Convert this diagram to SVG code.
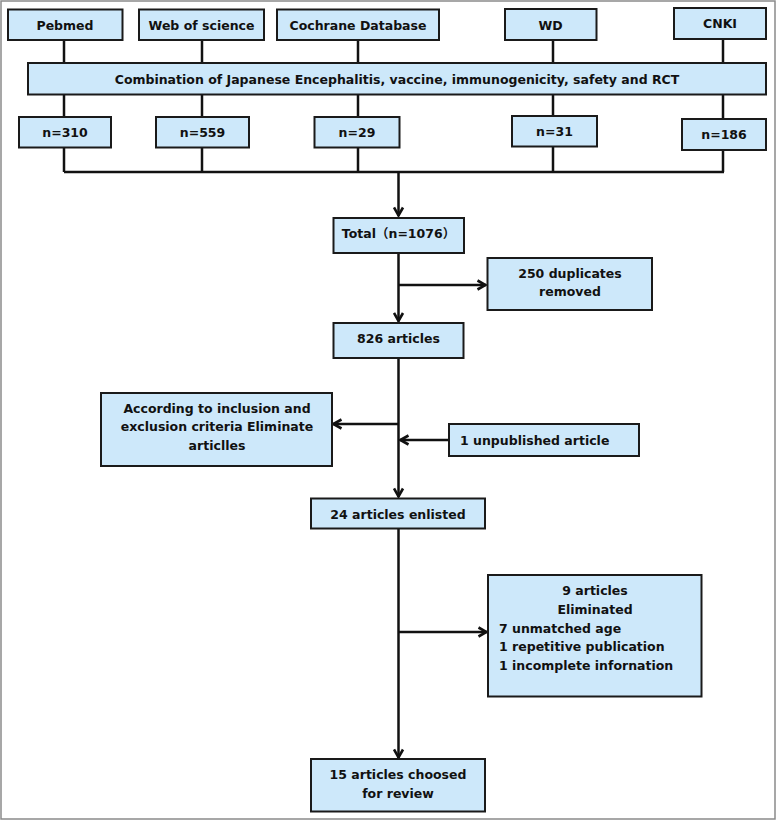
<svg xmlns="http://www.w3.org/2000/svg" width="776" height="820" viewBox="0 0 776 820">
<style>
.box{fill:#cde8fa;stroke:#1a1a1a;stroke-width:2}
.t{font-family:"DejaVu Sans","Verdana","Noto Sans CJK SC",sans-serif;font-weight:bold;font-size:12.5px;fill:#111}
.c{text-anchor:middle}
.ln{fill:none;stroke:#111;stroke-width:2.5}
</style>
<defs>
<marker id="arr" viewBox="0 0 12 12" refX="10.5" refY="6" markerWidth="12" markerHeight="12" markerUnits="userSpaceOnUse" orient="auto">
<path d="M2,1.5 L10,6 L2,10.5" fill="none" stroke="#111" stroke-width="2.6" stroke-linejoin="miter" stroke-miterlimit="4"/>
</marker>
</defs>
<rect x="1" y="1" width="774" height="818" fill="#fff" stroke="#8a8a8a" stroke-width="1.5"/>
<g id="connectors">
<path class="ln" d="M64,40V63 M202,40V63 M358,40V63 M553,40V63 M723,39V63"/>
<path class="ln" d="M64,94V117 M202,94V117 M358,94V117 M553,94V116 M723,94V119"/>
<path class="ln" d="M64,147V172 M202,147V172 M358,147V172 M553,147V172 M723,150V172 M64,172H724"/>
<path class="ln" d="M398.5,172V216" marker-end="url(#arr)"/>
<path class="ln" d="M398.5,253V321.5" marker-end="url(#arr)"/>
<path class="ln" d="M398.5,285H486" marker-end="url(#arr)"/>
<path class="ln" d="M398.5,358V497" marker-end="url(#arr)"/>
<path class="ln" d="M398.5,424H333" marker-end="url(#arr)"/>
<path class="ln" d="M449,440H400" marker-end="url(#arr)"/>
<path class="ln" d="M398.5,528V758" marker-end="url(#arr)"/>
<path class="ln" d="M398.5,632H487" marker-end="url(#arr)"/>
</g>
<g id="pebmed"><rect class="box" x="8" y="9.5" width="114.5" height="30.5"/><text class="t c" x="65" y="29.5">Pebmed</text></g>
<g id="wos"><rect class="box" x="139" y="9.5" width="125" height="30.5"/><text class="t c" x="201.5" y="29.5">Web of science</text></g>
<g id="cochrane"><rect class="box" x="277" y="9.5" width="162" height="30.5"/><text class="t c" x="358" y="29.5">Cochrane Database</text></g>
<g id="wd"><rect class="box" x="505" y="9" width="91.5" height="31"/><text class="t c" x="550.5" y="29.5">WD</text></g>
<g id="cnki"><rect class="box" x="674" y="8" width="92" height="31"/><text class="t c" x="720" y="28">CNKI</text></g>
<g id="combination"><rect class="box" x="28" y="63" width="738" height="31.5"/><text class="t c" x="397" y="83.5">Combination of Japanese Encephalitis, vaccine, immunogenicity, safety and RCT</text></g>
<g id="n310"><rect class="box" x="19" y="117" width="92" height="30.5"/><text class="t c" x="65" y="137">n=310</text></g>
<g id="n559"><rect class="box" x="156" y="117" width="93" height="30.5"/><text class="t c" x="202.5" y="137">n=559</text></g>
<g id="n29"><rect class="box" x="314.5" y="117" width="85" height="30.5"/><text class="t c" x="357" y="137">n=29</text></g>
<g id="n31"><rect class="box" x="512" y="116" width="85" height="30.5"/><text class="t c" x="554.5" y="136">n=31</text></g>
<g id="n186"><rect class="box" x="682" y="119" width="84" height="31"/><text class="t c" x="724" y="139">n=186</text></g>
<g id="total"><rect class="box" x="333.5" y="218" width="130.5" height="35"/><text class="t c" x="398.5" y="238">Total（n=1076）</text></g>
<g id="duplicates"><rect class="box" x="487.5" y="258" width="164.5" height="52"/><text class="t c" x="570" y="278">250 duplicates</text><text class="t c" x="570" y="296">removed</text></g>
<g id="a826"><rect class="box" x="333.5" y="323" width="130" height="35"/><text class="t c" x="398.5" y="343">826 articles</text></g>
<g id="criteria"><rect class="box" x="101" y="393" width="231" height="73"/><text class="t c" x="217" y="413">According to inclusion and</text><text class="t c" x="217" y="431.3">exclusion criteria Eliminate</text><text class="t c" x="217" y="449.6">articlles</text></g>
<g id="unpublished"><rect class="box" x="449" y="424" width="190" height="32"/><text class="t" x="460" y="444.5">1 unpublished article</text></g>
<g id="a24"><rect class="box" x="311" y="498.5" width="174" height="30"/><text class="t c" x="398" y="518.5">24 articles enlisted</text></g>
<g id="eliminated"><rect class="box" x="488" y="575" width="213.5" height="121.5"/><text class="t c" x="595" y="595">9 articles</text><text class="t c" x="595" y="613.8">Eliminated</text><text class="t" x="499" y="632.6">7 unmatched age</text><text class="t" x="499" y="651.4">1 repetitive publication</text><text class="t" x="499" y="670.2">1 incomplete infornation</text></g>
<g id="a15"><rect class="box" x="311" y="759" width="174" height="52.5"/><text class="t c" x="398" y="779">15 articles choosed</text><text class="t c" x="398" y="798">for review</text></g>
</svg>
